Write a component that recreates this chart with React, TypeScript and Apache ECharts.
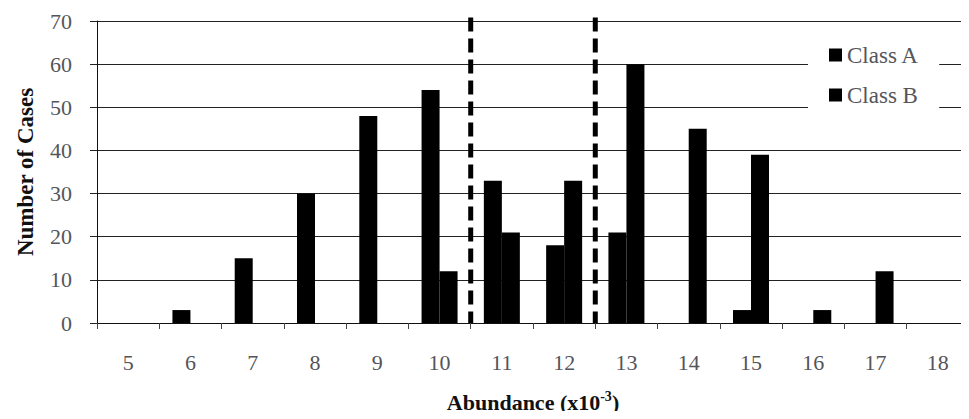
import React, { useEffect, useRef } from "react";
import * as echarts from "echarts";

const categories = ["5", "6", "7", "8", "9", "10", "11", "12", "13", "14", "15", "16", "17", "18"];
const classA = [0, 3, 15, 30, 48, 54, 33, 18, 21, 0, 3, 0, 0, 0];
const classB = [0, 0, 0, 0, 0, 12, 21, 33, 60, 45, 39, 3, 12, 0];
const dividerPositions = [10.5, 12.5];
const dividerTop = 70.8;

const FONT = "Liberation Serif";

export default function App() {
  const ref = useRef<HTMLDivElement>(null);
  useEffect(() => {
    if (!ref.current) return;
    const chart = echarts.init(ref.current, null, { renderer: "svg" });
    const dividerSeries = dividerPositions.map((x, i) => ({
      name: "divider" + i,
      type: "line",
      xAxisIndex: 1,
      yAxisIndex: 0,
      data: [
        [x, dividerTop],
        [x, 0],
      ],
      symbol: "none",
      clip: false,
      silent: true,
      z: 5,
      lineStyle: { color: "#000", width: 5, type: [14, 7] },
    }));
    chart.setOption({
      animation: false,
      backgroundColor: "#fff",
      textStyle: { fontFamily: FONT },
      grid: { left: 97, top: 21, width: 880, bottom: 96, containLabel: false },
      legend: {
        data: ["Class A", "Class B"],
        orient: "vertical",
        left: 808,
        top: 30,
        padding: [12, 20, 10, 21],
        backgroundColor: "#fff",
        itemWidth: 13,
        itemHeight: 13,
        itemGap: 14,
        icon: "rect",
        z: 10,
        textStyle: { fontFamily: FONT, fontSize: 23, lineHeight: 26 },
      },
      xAxis: [
        {
          type: "category",
          data: categories,
          boundaryGap: true,
          axisLine: { show: true, lineStyle: { color: "#111", width: 1 } },
          axisTick: { show: true, length: 6, alignWithLabel: false, lineStyle: { color: "#444" } },
          axisLabel: { fontFamily: FONT, fontSize: 22, margin: 28 },
          splitLine: { show: false },
          name: "{b|Abundance (x10}{s|-3}{b|)}",
          nameLocation: "middle",
          nameGap: 66,
          nameTextStyle: {
            fontFamily: FONT,
            rich: {
              b: { fontFamily: FONT, fontSize: 22, fontWeight: "bold", lineHeight: 26 },
              s: { fontFamily: FONT, fontSize: 14, fontWeight: "bold", lineHeight: 14, verticalAlign: "top" },
            },
          },
        },
        {
          type: "value",
          min: 4.5,
          max: 18.5,
          show: false,
          splitLine: { show: false },
        },
      ],
      yAxis: {
        type: "value",
        min: 0,
        max: 70,
        interval: 10,
        axisLine: { show: true, lineStyle: { color: "#111", width: 1 } },
        axisTick: { show: true, length: 7, lineStyle: { color: "#222" } },
        axisLabel: { fontFamily: FONT, fontSize: 22, margin: 25 },
        splitLine: { show: true, lineStyle: { color: "#222", width: 1 } },
        name: "Number of Cases",
        nameLocation: "middle",
        nameGap: 60,
        nameTextStyle: { fontFamily: FONT, fontSize: 23, fontWeight: "bold" },
      },
      series: [
        {
          name: "Class A",
          type: "bar",
          data: classA,
          barWidth: 18,
          barGap: "0%",
          itemStyle: { color: "#000" },
        },
        {
          name: "Class B",
          type: "bar",
          data: classB,
          barWidth: 18,
          barGap: "0%",
          itemStyle: { color: "#000" },
        },
        ...dividerSeries,
      ],
    });
    return () => chart.dispose();
  }, []);
  return <div ref={ref} style={{ width: 969, height: 419, margin: -8 }} />;
}
